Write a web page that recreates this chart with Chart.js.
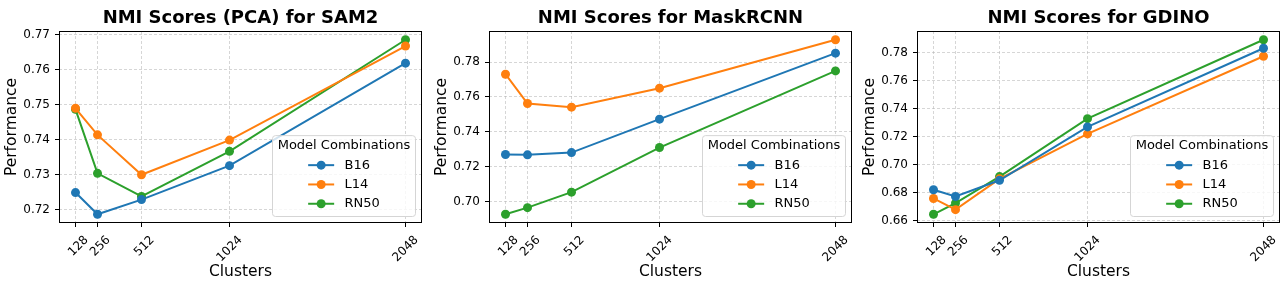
<!DOCTYPE html>
<html>
<head>
<meta charset="utf-8">
<script src="https://cdn.jsdelivr.net/npm/chart.js@4"></script>
<style>
  html, body { margin: 0; padding: 0; background: #fff; }
  body { width: 1288px; height: 291px; position: relative; overflow: hidden; }
  .panel { position: absolute; top: 0; width: 430px; height: 291px; }
</style>
</head>
<body>
<div class="panel" style="left:0px"><canvas id="c1" width="430" height="291"></canvas></div>
<div class="panel" style="left:430px"><canvas id="c2" width="430" height="291"></canvas></div>
<div class="panel" style="left:858px"><canvas id="c3" width="430" height="291"></canvas></div>
<script>
// ---------------- data ----------------
const clusters = [128, 256, 512, 1024, 2048];
const seriesNames = ['B16', 'L14', 'RN50'];
const legendTitle = 'Model Combinations';
const xAxisLabel = 'Clusters';
const yAxisLabel = 'Performance';

const sam2Title = 'NMI Scores (PCA) for SAM2';
const sam2B16  = [0.7248, 0.7186, 0.7228, 0.7325, 0.7618];
const sam2L14  = [0.7489, 0.7413, 0.7299, 0.7398, 0.7667];
const sam2RN50 = [0.7486, 0.7303, 0.7237, 0.7366, 0.7685];
const sam2Ticks = [0.72, 0.73, 0.74, 0.75, 0.76, 0.77];

const maskTitle = 'NMI Scores for MaskRCNN';
const maskB16  = [0.7269, 0.7267, 0.7280, 0.7472, 0.7851];
const maskL14  = [0.7730, 0.7562, 0.7541, 0.7650, 0.7928];
const maskRN50 = [0.6926, 0.6964, 0.7053, 0.7309, 0.7749];
const maskTicks = [0.70, 0.72, 0.74, 0.76, 0.78];

const gdinoTitle = 'NMI Scores for GDINO';
const gdinoB16  = [0.6820, 0.6772, 0.6888, 0.7269, 0.7831];
const gdinoL14  = [0.6758, 0.6678, 0.6898, 0.7219, 0.7774];
const gdinoRN50 = [0.6645, 0.6725, 0.6914, 0.7328, 0.7892];
const gdinoTicks = [0.66, 0.68, 0.70, 0.72, 0.74, 0.76, 0.78];

const colors = ['#1f77b4', '#ff7f0e', '#2ca02c'];

// ---------------- rendering ----------------
const FONT = '"DejaVu Sans", sans-serif';
Chart.defaults.font.family = FONT;
Chart.defaults.color = '#000';

const framePlugin = {
  id: 'frame',
  afterDatasetsDraw(chart) {
    const { ctx, chartArea: a } = chart;
    ctx.save();
    ctx.strokeStyle = '#000';
    ctx.lineWidth = 1;
    ctx.strokeRect(Math.round(a.left) + 0.5, Math.round(a.top) + 0.5,
                   Math.round(a.right - a.left) - 1, Math.round(a.bottom - a.top) - 1);
    ctx.restore();
  }
};

const legendPlugin = {
  id: 'mplLegend',
  afterDraw(chart, args, opts) {
    const { ctx, chartArea: a } = chart;
    const fs = 13;
    ctx.save();
    ctx.font = fs + 'px ' + FONT;
    const titleW = ctx.measureText(opts.title).width;
    const labels = chart.data.datasets.map(d => d.label);
    const maxLabelW = Math.max(...labels.map(l => ctx.measureText(l).width));
    const handleLen = 2 * fs, textPad = 0.8 * fs, pad = 0.4 * fs;
    const entriesW = handleLen + textPad + maxLabelW;
    const innerW = Math.max(titleW, entriesW);
    const boxW = innerW + 2 * pad;
    const titleC = 0.77 * fs, firstC = 2.27 * fs, step = 1.485 * fs, tail = 0.98 * fs;
    const boxH = firstC + step * (labels.length - 1) + tail;
    const right = a.right - 0.5 * fs, bottom = a.bottom - 0.5 * fs;
    const left = right - boxW, top = bottom - boxH;
    const r = 3;
    ctx.beginPath();
    ctx.moveTo(left + r, top);
    ctx.arcTo(right, top, right, bottom, r);
    ctx.arcTo(right, bottom, left, bottom, r);
    ctx.arcTo(left, bottom, left, top, r);
    ctx.arcTo(left, top, right, top, r);
    ctx.closePath();
    ctx.fillStyle = 'rgba(255,255,255,0.8)';
    ctx.fill();
    ctx.strokeStyle = '#d5d5d5';
    ctx.lineWidth = 1;
    ctx.stroke();
    ctx.fillStyle = '#000';
    ctx.textBaseline = 'middle';
    ctx.textAlign = 'center';
    ctx.fillText(opts.title, left + boxW / 2, top + titleC);
    const x0 = left + pad + (innerW - entriesW) / 2;
    chart.data.datasets.forEach((d, i) => {
      const y = top + firstC + i * step;
      ctx.strokeStyle = d.borderColor;
      ctx.lineWidth = 2;
      ctx.beginPath();
      ctx.moveTo(x0, y);
      ctx.lineTo(x0 + handleLen, y);
      ctx.stroke();
      ctx.fillStyle = d.backgroundColor;
      ctx.beginPath();
      ctx.arc(x0 + handleLen / 2, y, 4.5, 0, Math.PI * 2);
      ctx.fill();
      ctx.fillStyle = '#000';
      ctx.textAlign = 'left';
      ctx.fillText(d.label, x0 + handleLen + textPad, y);
    });
    ctx.restore();
  }
};

function bounds(values) {
  const mn = Math.min(...values), mx = Math.max(...values);
  const m = (mx - mn) * 0.05;
  return [mn - m, mx + m];
}

function makeChart(id, title, series, yTicks) {
  const allY = series.flat();
  const [ymin, ymax] = bounds(allY);
  const [xmin, xmax] = bounds(clusters);
  const datasets = series.map((vals, i) => ({
    label: seriesNames[i],
    data: clusters.map((c, j) => ({ x: c, y: vals[j] })),
    borderColor: colors[i],
    backgroundColor: colors[i],
    borderWidth: 2,
    pointRadius: 4.5,
    pointBorderWidth: 0,
    pointHoverRadius: 4.5,
    tension: 0,
    fill: false
  }));
  const gridCommon = {
    color: 'rgba(176,176,176,0.65)',
    lineWidth: 0.8,
    tickColor: '#000',
    tickWidth: 1,
    tickBorderDash: [],
    tickLength: 4,
    drawTicks: true
  };
  const borderCommon = { display: false, dash: [3, 2] };
  return new Chart(document.getElementById(id), {
    type: 'line',
    data: { datasets },
    plugins: [framePlugin, legendPlugin],
    options: {
      responsive: false,
      animation: false,
      events: [],
      layout: { padding: { left: 0, right: 8, top: 0, bottom: 0 } },
      plugins: {
        legend: { display: false },
        tooltip: { enabled: false },
        title: {
          display: true,
          text: title,
          fullSize: false,
          font: { size: 18, weight: 'bold', family: FONT },
          color: '#000',
          padding: { top: 8, bottom: 1.4 }
        },
        mplLegend: { title: legendTitle }
      },
      scales: {
        x: {
          type: 'linear',
          min: xmin, max: xmax,
          afterBuildTicks: s => { s.ticks = clusters.map(v => ({ value: v })); },
          afterFit: s => { s.height = 68; },
          border: borderCommon,
          grid: gridCommon,
          ticks: {
            autoSkip: false,
            minRotation: 45, maxRotation: 45,
            padding: 6,
            labelOffset: 11,
            font: { size: 12, family: FONT },
            color: '#000',
            callback: v => String(v)
          },
          title: {
            display: true, text: xAxisLabel,
            font: { size: 15.5, family: FONT }, color: '#000',
            padding: { top: 0, bottom: 10 }
          }
        },
        y: {
          type: 'linear',
          min: ymin, max: ymax,
          afterBuildTicks: s => { s.ticks = yTicks.map(v => ({ value: v })); },
          afterFit: s => { s.width = 59; },
          border: borderCommon,
          grid: gridCommon,
          ticks: {
            padding: 5,
            font: { size: 12, family: FONT },
            color: '#000',
            callback: v => Number(v).toFixed(2)
          },
          title: {
            display: true, text: yAxisLabel,
            font: { size: 15.5, family: FONT }, color: '#000',
            padding: { top: 3, bottom: 0 }
          }
        }
      }
    }
  });
}

makeChart('c1', sam2Title, [sam2B16, sam2L14, sam2RN50], sam2Ticks);
makeChart('c2', maskTitle, [maskB16, maskL14, maskRN50], maskTicks);
makeChart('c3', gdinoTitle, [gdinoB16, gdinoL14, gdinoRN50], gdinoTicks);
</script>
</body>
</html>
